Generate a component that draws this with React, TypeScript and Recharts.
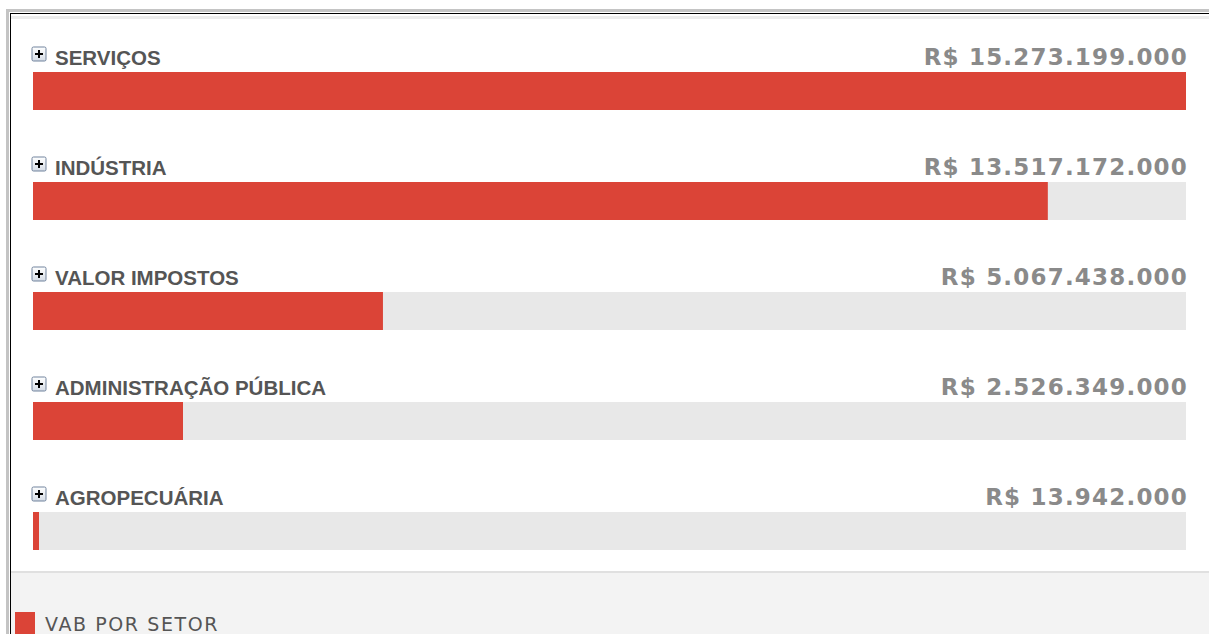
import { BarChart, Bar, XAxis, YAxis, LabelList, Rectangle } from 'recharts';

const setores = ['SERVIÇOS', 'INDÚSTRIA', 'VALOR IMPOSTOS', 'ADMINISTRAÇÃO PÚBLICA', 'AGROPECUÁRIA'];
const valores = [15273199000, 13517172000, 5067438000, 2526349000, 13942000];
const serieNome = 'VAB POR SETOR';
// a escala do original não começa no zero
const escala = [620000000, 15273199000];

const data = setores.map((name, i) => ({ name, value: valores[i] }));

const WIDTH = 1209;
const HEIGHT = 634;
const MARGIN = { top: 36, right: 23, bottom: 48, left: 33 };
const RED = '#db4437';
const MIN_BAR = 6;

const formatBRL = (v: number) => 'R$ ' + String(v).replace(/\B(?=(\d{3})+(?!\d))/g, '.');

// barra com largura mínima (a agropecuária fica abaixo do início da escala)
const BarShape = (props: any) => {
  const { x, y, width, height, fill } = props;
  return <Rectangle x={x} y={y} width={Math.max(Number(width), MIN_BAR)} height={height} fill={fill} />;
};

const NameLabel = (props: any) => {
  const { y, value } = props;
  const bx = MARGIN.left;
  const by = Number(y);
  return (
    <g>
      <rect x={bx - 1} y={by - 25} width={14} height={14} rx={1.5} fill="url(#plusGrad)" stroke="#71839d" strokeWidth={1} />
      <line x1={bx + 2} x2={bx + 10} y1={by - 18} y2={by - 18} stroke="#000" strokeWidth={2} />
      <line x1={bx + 6} x2={bx + 6} y1={by - 22} y2={by - 14} stroke="#000" strokeWidth={2} />
      <text x={bx + 22} y={by - 7} fill="#555" fontFamily="'Liberation Sans', Arial, sans-serif" fontWeight="bold" fontSize={20.5}>
        {value}
      </text>
    </g>
  );
};

const ValueLabel = (props: any) => {
  const { y, value } = props;
  return (
    <text
      x={WIDTH - MARGIN.right + 2}
      y={Number(y) - 7}
      textAnchor="end"
      fill="#8a8a8a"
      fontFamily="'DejaVu Sans', Verdana, sans-serif"
      fontWeight="bold"
      fontSize={23}
      letterSpacing={1.2}
    >
      {formatBRL(Number(value))}
    </text>
  );
};

export default function App() {
  return (
    <div style={{ position: 'absolute', left: 0, top: 0, width: WIDTH, height: HEIGHT, overflow: 'hidden', background: '#fff' }}>
      {/* moldura */}
      <div style={{ position: 'absolute', left: 6, top: 9, width: 1400, height: 800, borderTop: '3px solid #c4c4c4', borderLeft: '3px solid #c4c4c4' }} />
      <div style={{ position: 'absolute', left: 10, top: 13, width: 1400, height: 800, borderTop: '1px solid #000', borderLeft: '1px solid #000' }} />
      <div style={{ position: 'absolute', left: 11, top: 16, width: 1400, height: 3, background: '#ececec' }} />
      {/* rodapé com a legenda */}
      <div style={{ position: 'absolute', left: 11, top: 571, width: 1400, height: 100, borderTop: '2px solid #e0e0e0', background: '#f3f3f3' }} />
      <div style={{ position: 'absolute', left: 15, top: 612, display: 'flex', alignItems: 'flex-start' }}>
        <div style={{ width: 20, height: 22, background: RED }} />
        <span
          style={{
            marginLeft: 10,
            marginTop: 4,
            fontFamily: "'DejaVu Sans', Verdana, sans-serif",
            fontSize: 19,
            letterSpacing: 1.6,
            color: '#555',
            lineHeight: '17px',
            whiteSpace: 'nowrap',
          }}
        >
          {serieNome}
        </span>
      </div>
      <div style={{ position: 'absolute', left: 0, top: 0 }}>
        <BarChart width={WIDTH} height={HEIGHT} data={data} layout="vertical" margin={MARGIN}>
          <defs>
            <linearGradient id="plusGrad" x1="0" y1="0" x2="0" y2="1">
              <stop offset="0%" stopColor="#ffffff" />
              <stop offset="100%" stopColor="#d5dce6" />
            </linearGradient>
          </defs>
          <XAxis type="number" hide domain={escala} allowDataOverflow />
          <YAxis type="category" dataKey="name" hide />
          <Bar
            dataKey="value"
            name={serieNome}
            fill={RED}
            barSize={38}
            background={{ fill: '#e8e8e8' }}
            shape={<BarShape />}
            isAnimationActive={false}
          >
            <LabelList dataKey="name" content={<NameLabel />} />
            <LabelList dataKey="value" content={<ValueLabel />} />
          </Bar>
        </BarChart>
      </div>
    </div>
  );
}
